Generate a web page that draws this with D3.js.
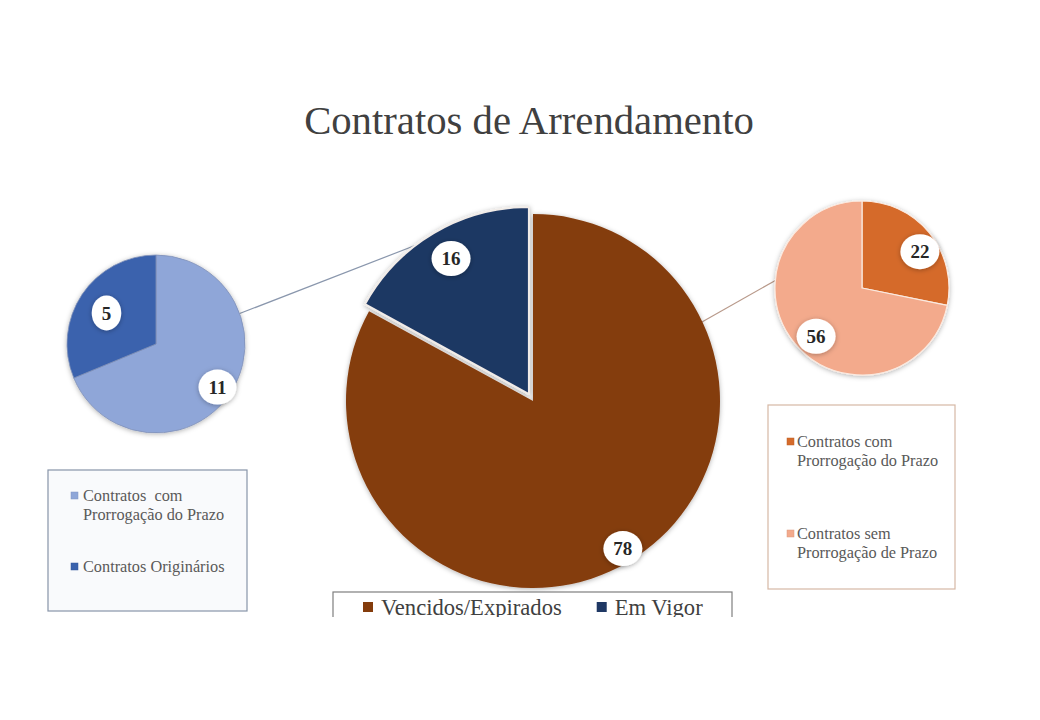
<!DOCTYPE html>
<html>
<head>
<meta charset="utf-8">
<script src="https://cdn.jsdelivr.net/npm/d3@7"></script>
<style>
    body { margin: 0; background: #fff; }
    text { font-family: "Liberation Serif", "Times New Roman", serif; }
</style>
</head>
<body>
<svg id="chart" width="1040" height="720"></svg>
<script>
// main pie
var mainLabels = ["Vencidos/Expirados", "Em Vigor"];
var mainValues = [78, 16];
var mainColors = ["#843c0c", "#1f3864"];

// left pie: split of "Em Vigor"
var leftLabels = [["Contratos  com", "Prorrogação do Prazo"], ["Contratos Originários"]];
var leftValues = [11, 5];
var leftColors = ["#8fa6d8", "#3a62ad"];

// right pie: split of "Vencidos/Expirados"
var rightLabels = [["Contratos com", "Prorrogação do Prazo"], ["Contratos sem", "Prorrogação de Prazo"]];
var rightValues = [22, 56];
var rightColors = ["#d56b2b", "#f3aa8c"];

var title = "Contratos de Arrendamento";

var svg = d3.select("#chart");
var toRad = Math.PI / 180;

// soft shadow used by pies and label bubbles
var defs = svg.append("defs");
defs.append("filter").attr("id", "shadow")
    .attr("x", "-20%").attr("y", "-20%").attr("width", "140%").attr("height", "140%")
    .append("feDropShadow")
    .attr("dx", 0).attr("dy", 1).attr("stdDeviation", 2.5)
    .attr("flood-color", "#000").attr("flood-opacity", 0.3);
defs.append("clipPath").attr("id", "cut")
    .append("rect").attr("x", 0).attr("y", 0).attr("width", 1040).attr("height", 617);

//point on a circle, angle in degrees clockwise from 12 o'clock
var polar = function(cx, cy, r, deg) {
    return [cx + r * Math.sin(deg * toRad), cy - r * Math.cos(deg * toRad)];
};

// pie geometry
var mainPie = {cx: 533, cy: 401, r: 187, explode: [1], offset: 8, labelK: 0.88, stroke: ["none", "#f1ece8"], strokeWidth: 2};
var leftPie = {cx: 156, cy: 344, r: 89, explode: [], offset: 0, labelK: 0.75, stroke: ["#8090b8", "#8090b8"], strokeWidth: 0.8};
var rightPie = {cx: 862, cy: 288, r: 87, explode: [], offset: 0, labelK: 0.77, stroke: ["#fbe9df", "#fbe9df"], strokeWidth: 1.2};
// excel nudges its bubbles a little down-right
var labelNudge = [6, 6];

var linesG = svg.append("g");

//draw a pie with white label bubbles
var drawPie = function(values, colors, opt) {
    var pie = d3.pie().sort(null).value(function(d) { return d; });
    var arcs = pie(values);
    var arc = d3.arc().innerRadius(0).outerRadius(opt.r);
    var g = svg.append("g").attr("transform", "translate(" + opt.cx + "," + opt.cy + ")");

    var shift = function(d, i) {
        if (opt.explode.indexOf(i) < 0) return [0, 0];
        var mid = (d.startAngle + d.endAngle) / 2;
        return [opt.offset * Math.sin(mid), -opt.offset * Math.cos(mid)];
    };

    g.append("g").attr("filter", "url(#shadow)")
        .selectAll("path")
        .data(arcs)
        .enter().append("path")
        .attr("d", arc)
        .attr("transform", function(d, i) { var s = shift(d, i); return "translate(" + s[0] + "," + s[1] + ")"; })
        .attr("fill", function(d, i) { return colors[i]; })
        .attr("stroke", function(d, i) { return opt.stroke[i]; })
        .attr("stroke-width", opt.strokeWidth)
        .attr("stroke-linejoin", "round");

    var lab = g.selectAll(".lab")
        .data(arcs)
        .enter().append("g")
        .attr("class", "lab")
        .attr("transform", function(d, i) {
            var s = shift(d, i);
            var mid = (d.startAngle + d.endAngle) / 2;
            var k = opt.r * opt.labelK;
            return "translate(" + (s[0] + k * Math.sin(mid) + labelNudge[0]) + "," +
                (s[1] - k * Math.cos(mid) + labelNudge[1]) + ")";
        });

    lab.append("text")
        .attr("text-anchor", "middle")
        .attr("dy", "0.35em")
        .attr("font-size", 19)
        .attr("font-weight", "bold")
        .attr("fill", "#262626")
        .text(function(d) { return d.value; });

    lab.insert("ellipse", "text")
        .attr("rx", function() { return this.parentNode.querySelector("text").getComputedTextLength() / 2 + 10; })
        .attr("ry", 17.5)
        .attr("fill", "#fff")
        .attr("filter", "url(#shadow)");
};

// connector lines (drawn under the pies)
var a = polar(leftPie.cx, leftPie.cy, leftPie.r, 70);
var b = polar(mainPie.cx - 6, mainPie.cy - 8, mainPie.r - 2, 323);
linesG.append("line")
    .attr("x1", a[0]).attr("y1", a[1]).attr("x2", b[0]).attr("y2", b[1])
    .attr("stroke", "#8a97ad").attr("stroke-width", 1.2);

var c = polar(mainPie.cx, mainPie.cy, mainPie.r - 4, 65);
var e = polar(rightPie.cx, rightPie.cy, rightPie.r, 275);
linesG.append("line")
    .attr("x1", c[0]).attr("y1", c[1]).attr("x2", e[0]).attr("y2", e[1])
    .attr("stroke", "#b8998a").attr("stroke-width", 1.2);

drawPie(mainValues, mainColors, mainPie);
drawPie(leftValues, leftColors, leftPie);
drawPie(rightValues, rightColors, rightPie);

// title
svg.append("text")
    .attr("x", 529).attr("y", 134)
    .attr("text-anchor", "middle")
    .attr("font-size", 40.7)
    .attr("fill", "#404040")
    .text(title);

//stacked legend in a box
var drawBoxLegend = function(labels, colors, box) {
    var g = svg.append("g");
    g.append("rect")
        .attr("x", box.x).attr("y", box.y).attr("width", box.w).attr("height", box.h)
        .attr("fill", box.fill).attr("stroke", box.stroke).attr("stroke-width", 1.2);
    labels.forEach(function(lines, i) {
        var y0 = box.y + box.first + i * box.step;
        g.append("rect")
            .attr("x", box.x + box.mx).attr("y", y0 - 9)
            .attr("width", 7).attr("height", 7)
            .attr("fill", colors[i]).attr("stroke", d3.color(colors[i]).darker(0.3)).attr("stroke-width", 0.5);
        var t = g.append("text")
            .attr("x", box.x + box.tx).attr("y", y0)
            .attr("font-size", 16.3).attr("fill", "#595959")
            .style("white-space", "pre");
        lines.forEach(function(line, j) {
            t.append("tspan").attr("x", box.x + box.tx).attr("dy", j === 0 ? 0 : 19).text(line);
        });
    });
};

drawBoxLegend(leftLabels, leftColors,
    {x: 48, y: 470, w: 199, h: 141, fill: "#f9fafc", stroke: "#8794a8", first: 31, step: 71, mx: 23, tx: 35});
drawBoxLegend(rightLabels, rightColors,
    {x: 768, y: 405, w: 187, h: 184, fill: "#fff", stroke: "#d6b8a5", first: 42, step: 92, mx: 19, tx: 29});

// bottom legend, cut off at the image edge
var bottom = svg.append("g").attr("clip-path", "url(#cut)");
bottom.append("rect")
    .attr("x", 333).attr("y", 592).attr("width", 399).attr("height", 60)
    .attr("fill", "#fff").attr("stroke", "#7f7f7f").attr("stroke-width", 1.2);
var bx = 363;
mainLabels.forEach(function(name, i) {
    bottom.append("rect")
        .attr("x", bx).attr("y", 602).attr("width", 10).attr("height", 10)
        .attr("fill", mainColors[i]);
    var t = bottom.append("text")
        .attr("x", bx + 18).attr("y", 615)
        .attr("font-size", 22.6).attr("fill", "#404040")
        .text(name);
    bx += 18 + t.node().getComputedTextLength() + 35;
});
</script>
</body>
</html>
